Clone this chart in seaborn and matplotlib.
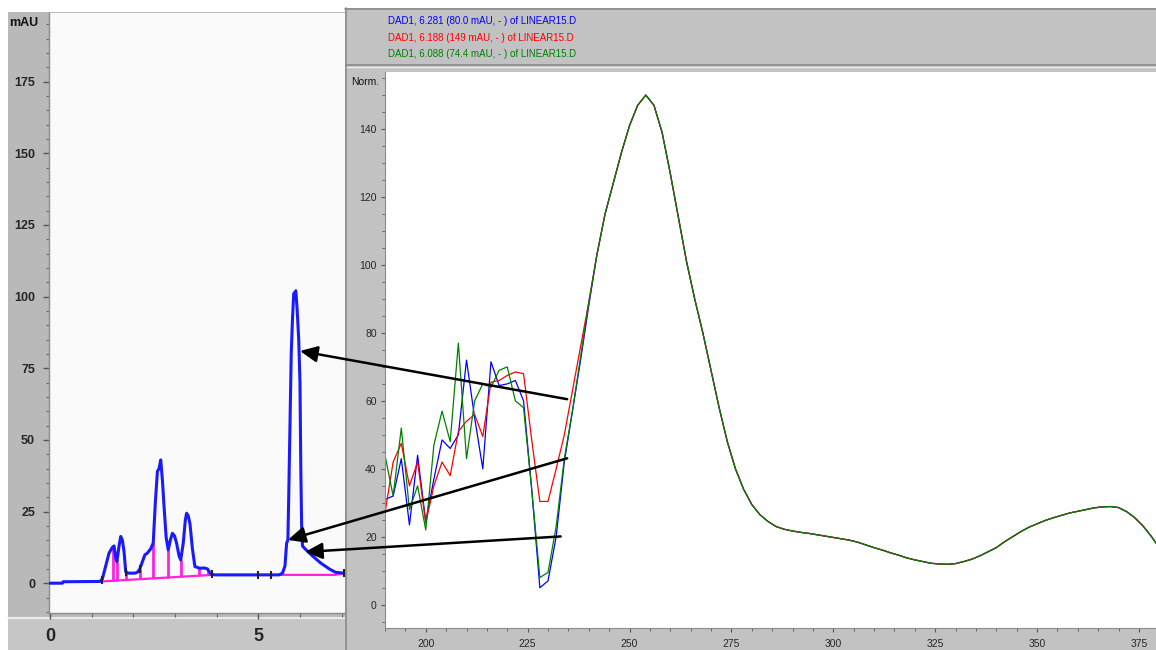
import numpy as np
import pandas as pd
import matplotlib
matplotlib.use("Agg")
import matplotlib.pyplot as plt
from matplotlib.patches import Rectangle, ConnectionPatch
from matplotlib.lines import Line2D
from matplotlib.ticker import MultipleLocator
import seaborn as sns

# ---------------- Chromatogram: DAD1 signal (mAU) vs retention time (min) ----------------
time_min = [0.00, 0.30, 0.32, 1.20, 1.26, 1.34, 1.42, 1.50, 1.54, 1.58, 1.61, 1.66, 1.70,
            1.74, 1.78, 1.82, 1.88, 2.04, 2.10, 2.16, 2.22, 2.28, 2.34, 2.42, 2.48, 2.53,
            2.58, 2.62, 2.66, 2.70, 2.74, 2.79, 2.84, 2.89, 2.94, 2.99, 3.04, 3.10, 3.14,
            3.20, 3.25, 3.28, 3.32, 3.36, 3.42, 3.48, 3.60, 3.70, 3.78, 3.86, 3.95, 5.00,
            5.50, 5.58, 5.64, 5.68, 5.71, 5.73, 5.76, 5.79, 5.82, 5.85, 5.88, 5.90, 5.93,
            5.97, 6.00, 6.02, 6.04, 6.06, 6.12, 6.30, 6.50, 6.70, 6.85, 7.05, 7.20]
signal_mau = [0.0, 0.0, 0.5, 0.6, 1.5, 6.0, 10.5, 12.5, 13.0, 9.0, 7.5, 13.0, 16.3,
              15.0, 11.0, 4.0, 3.5, 3.5, 3.8, 5.0, 7.5, 9.9, 10.5, 12.0, 14.0, 28.0,
              39.0, 40.0, 43.0, 36.0, 26.7, 16.0, 11.6, 15.0, 17.4, 16.5, 14.0, 9.5, 8.1,
              14.0, 22.0, 24.4, 23.5, 20.9, 12.0, 5.8, 5.2, 5.3, 5.0, 3.2, 2.9, 2.9,
              2.9, 3.5, 6.0, 14.0, 15.0, 30.0, 55.0, 80.0, 92.0, 101.0, 101.5, 102.0, 96.0,
              85.0, 70.0, 40.0, 20.0, 13.0, 12.0, 9.5, 7.0, 5.0, 3.8, 3.5, 3.5]

# integration baselines (start/end time, start/end level)
baseline_time = [[1.24, 3.90], [5.55, 6.85, 7.05]]
baseline_mau = [[0.6, 2.9], [2.9, 2.9, 3.5]]
# peak-separation drop lines
drop_times = [1.51, 1.61, 1.82, 2.16, 2.48, 2.84, 3.14, 3.58, 3.80]
# peak start / end markers
marker_times = [1.24, 1.82, 2.16, 3.90, 5.00, 5.30, 7.05]

# ---------------- UV spectra (normalised) at three retention times ----------------
spectrum_labels = ["DAD1, 6.281 (80.0 mAU, - ) of LINEAR15.D",
                   "DAD1, 6.188 (149 mAU, - ) of LINEAR15.D",
                   "DAD1, 6.088 (74.4 mAU, - ) of LINEAR15.D"]
spectrum_colors = ["#0000ff", "#ff0000", "#008000"]

wl_head = list(range(190, 242, 2))
blue_head = [31, 32, 43, 23.5, 44, 24.5, 37, 48.5, 46, 50, 72, 55, 40, 71.5, 64.5, 65,
             66, 60, 34, 5, 7, 20, 42, 57, 72, 88]
red_head = [27, 42, 47.5, 35, 42, 24, 35, 42, 38, 51, 54, 56, 49.5, 65.5, 66, 67.5,
            68.5, 68, 48.5, 30.4, 30.4, 40, 50, 63, 76, 89]
green_head = [44, 32, 52, 28, 35, 22, 47, 57, 48, 77, 43, 60, 65, 64, 69, 70, 60, 58,
              34, 8, 9.5, 23, 43, 57, 73, 89]

wl_tail = list(range(242, 382, 2))
spectrum_tail = [103, 115, 124, 133, 141, 147, 150, 147, 139, 127, 114, 101, 90, 80, 69,
                 58, 48, 40, 34, 29.5, 26.5, 24.5, 23, 22.2, 21.7, 21.3, 21, 20.6, 20.2,
                 19.8, 19.4, 19, 18.4, 17.6, 16.8, 16.1, 15.3, 14.6, 13.8, 13.2, 12.7,
                 12.2, 12.0, 11.9, 12.1, 12.7, 13.4, 14.4, 15.6, 16.8, 18.5, 20, 21.5,
                 22.8, 23.8, 24.8, 25.6, 26.3, 27.0, 27.5, 28, 28.5, 28.8, 28.9, 28.6,
                 27.4, 25.6, 23.2, 20.2, 16.8]

# arrows linking spectrum points to retention positions on the trace
arrow_wl = [234.7, 234.7, 233.1]
arrow_norm = [60.5, 43.1, 20.1]
arrow_time = [6.00, 5.71, 6.12]
arrow_mau = [81.0, 15.1, 10.9]

# ---------------- figure ----------------
sns.set_style("white")
plt.rcParams["font.family"] = ["Liberation Sans", "DejaVu Sans"]

W, H = 1156, 650
fig = plt.figure(figsize=(W / 100, H / 100), dpi=100)
fig.patch.set_facecolor("white")


def box(x0, y0, x1, y1):
    """Pixel box (top-left origin) to figure-fraction rect."""
    return [x0 / W, 1 - y1 / H, (x1 - x0) / W, (y1 - y0) / H]


def fx(x):
    return x / W


def fy(y):
    return 1 - y / H


def panel(x0, y0, x1, y1, color, z=-10):
    r = Rectangle((fx(x0), fy(y1)), (x1 - x0) / W, (y1 - y0) / H,
                  transform=fig.transFigure, facecolor=color, edgecolor="none", zorder=z)
    fig.add_artist(r)


def hline(x0, x1, y, color, lw=1.0, z=-5):
    fig.add_artist(Line2D([fx(x0), fx(x1)], [fy(y), fy(y)], transform=fig.transFigure,
                          color=color, lw=lw, zorder=z))


def vline(x, y0, y1, color, lw=1.0, z=-5):
    fig.add_artist(Line2D([fx(x), fx(x)], [fy(y0), fy(y1)], transform=fig.transFigure,
                          color=color, lw=lw, zorder=z))


# ---- chromatogram window ----
panel(8, 12, 345, 650, "#b9b9b9")
panel(8, 619, 345, 650, "#c6c6c6")
hline(8, 345, 618, "#ececec", lw=1.5)

ax_c = fig.add_axes(box(49, 13, 345, 613))
ax_c.set_facecolor("#fafafa")
sns.lineplot(x=time_min, y=signal_mau, ax=ax_c, color="#1a1aff", lw=2.2,
             estimator=None, sort=False, zorder=3)
for bt, bm in zip(baseline_time, baseline_mau):
    ax_c.plot(bt, bm, color="#ff22dd", lw=1.6, zorder=2)
drop_top = np.interp(drop_times, time_min, signal_mau)
drop_base = np.concatenate([np.interp([t], baseline_time[0], baseline_mau[0])
                            for t in drop_times])
ax_c.vlines(drop_times, drop_base, drop_top, color="#ff22dd", lw=2.0, zorder=2)
ax_c.scatter(marker_times, np.interp(marker_times, time_min, signal_mau),
             marker="|", s=30, color="#222222", lw=1.5, zorder=4)

ax_c.set_xlim(-0.02, 7.08)
ax_c.set_ylim(-10.4, 198.9)
ax_c.xaxis.set_major_locator(MultipleLocator(5))
ax_c.xaxis.set_minor_locator(MultipleLocator(1))
ax_c.yaxis.set_major_locator(MultipleLocator(25))
ax_c.yaxis.set_minor_locator(MultipleLocator(5))
ax_c.tick_params(axis="y", which="major", direction="out", length=4, width=1,
                 color="#555555", pad=6, labelsize=9, left=True)
ax_c.tick_params(axis="y", which="minor", direction="out", length=2.5, width=0.8,
                 color="#666666", left=True)
ax_c.tick_params(axis="x", which="major", direction="out", length=4, width=1,
                 color="#555555", pad=7, labelsize=13, bottom=True)
ax_c.tick_params(axis="x", which="minor", direction="out", length=3, width=0.8,
                 color="#666666", bottom=True)
for lab in ax_c.get_xticklabels() + ax_c.get_yticklabels():
    lab.set_fontweight("bold")
for side in ["top", "right"]:
    ax_c.spines[side].set_visible(False)
for side in ["left", "bottom"]:
    ax_c.spines[side].set_color("#8c8c8c")
    ax_c.spines[side].set_linewidth(1.0)
ax_c.set_xlabel("")
ax_c.set_ylabel("")
fig.text(fx(24), fy(23), "mAU", ha="center", va="center", fontsize=9,
         fontweight="bold", color="#111111")

# ---- spectrum window ----
panel(345, 8, 1156, 650, "#c2c2c2", z=-4)
hline(345, 1156, 9, "#8a8a8a", lw=1.2, z=-3)
hline(345, 1156, 65, "#8a8a8a", lw=1.2, z=-3)
hline(345, 1156, 67, "#ececec", lw=1.0, z=-3)
vline(346, 8, 650, "#8a8a8a", lw=1.2, z=-3)

for i, (lab, col) in enumerate(zip(spectrum_labels, spectrum_colors)):
    fig.text(fx(388), fy(21 + i * 16.7), lab, ha="left", va="center",
             fontsize=7, color=col)

rows = []
for name, head in zip(spectrum_labels, [blue_head, red_head, green_head]):
    for w, v in zip(wl_head + wl_tail, head + spectrum_tail):
        rows.append({"wavelength": w, "norm": v, "trace": name})
spec = pd.DataFrame(rows)

ax_s = fig.add_axes(box(385, 72, 1156, 628))
ax_s.set_facecolor("white")
sns.lineplot(data=spec, x="wavelength", y="norm", hue="trace",
             hue_order=spectrum_labels, palette=dict(zip(spectrum_labels, spectrum_colors)),
             estimator=None, sort=False, lw=0.9, legend=False, ax=ax_s)
ax_s.set_xlim(190, 379.2)
ax_s.set_ylim(-6.85, 156.8)
ax_s.xaxis.set_major_locator(MultipleLocator(25))
ax_s.xaxis.set_minor_locator(MultipleLocator(5))
ax_s.yaxis.set_major_locator(MultipleLocator(20))
ax_s.yaxis.set_minor_locator(MultipleLocator(5))
ax_s.set_yticks(np.arange(0, 141, 20))
ax_s.tick_params(axis="both", which="major", direction="out", length=3, width=0.8,
                 color="#555555", labelsize=7.5, left=True, bottom=True)
ax_s.tick_params(axis="y", which="major", pad=3)
ax_s.tick_params(axis="x", which="major", pad=5)
ax_s.tick_params(axis="both", which="minor", direction="out", length=2, width=0.7,
                 color="#666666", left=True, bottom=True)
for side in ["top", "right"]:
    ax_s.spines[side].set_visible(False)
for side in ["left", "bottom"]:
    ax_s.spines[side].set_color("#8c8c8c")
    ax_s.spines[side].set_linewidth(0.8)
ax_s.set_xlabel("")
ax_s.set_ylabel("")
fig.text(fx(365), fy(82), "Norm.", ha="center", va="center", fontsize=7.5, color="#111111")

# ---- arrows from spectrum points to the chromatogram ----
for w, v, t, m in zip(arrow_wl, arrow_norm, arrow_time, arrow_mau):
    con = ConnectionPatch(xyA=(w, v), coordsA=ax_s.transData,
                          xyB=(t, m), coordsB=ax_c.transData,
                          arrowstyle="-|>,head_length=0.75,head_width=0.35",
                          mutation_scale=14, color="black", lw=1.8,
                          shrinkA=0, shrinkB=0, zorder=20)
    fig.add_artist(con)

fig.savefig("out.png", dpi=100)
